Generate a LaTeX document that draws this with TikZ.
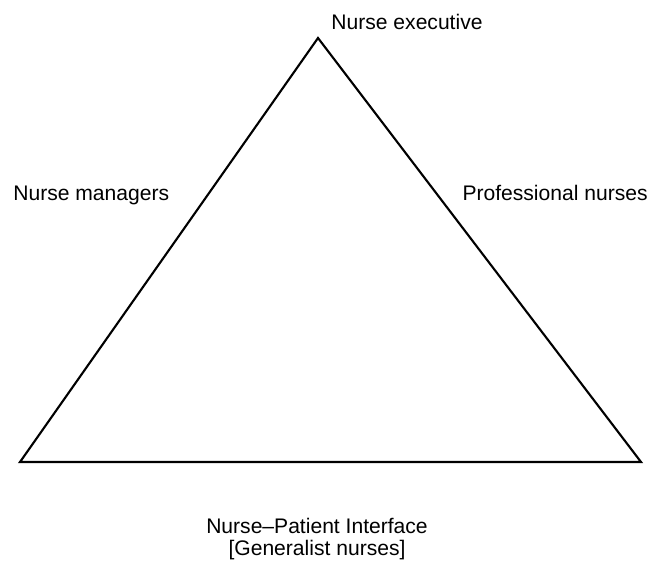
\documentclass[tikz,border=0pt]{standalone}
\usepackage{fontspec}
\setmainfont{Liberation Sans}
\begin{document}
\begin{tikzpicture}[x=0.02cm,y=-0.02cm,
    lbl/.style={inner sep=0pt,font=\fontsize{12}{14}\selectfont},
    side/.style={line width=1.2pt,line join=miter}]
                \useasboundingbox (0,0) rectangle (661,561);
                %% corners
                \coordinate (top) at (318,38);
                \coordinate (left) at (20,462);
                \coordinate (right) at (641,462);
                %% triangle
                \draw[side] (top) -- (left) -- (right) -- cycle;
                %% labels
                \node[lbl,anchor=base] (exec) at (407,30) {Nurse executive};
                \node[lbl,anchor=base west] (mgr) at (13,200) {Nurse managers};
                \node[lbl,anchor=base east] (prof) at (648,200) {Professional nurses};
                \node[lbl,anchor=base,align=center,
                      font=\fontsize{12}{12.5}\selectfont] (iface) at (317,555)
                      {Nurse--Patient Interface\\{[Generalist nurses]}};
            \end{tikzpicture}
\end{document}
